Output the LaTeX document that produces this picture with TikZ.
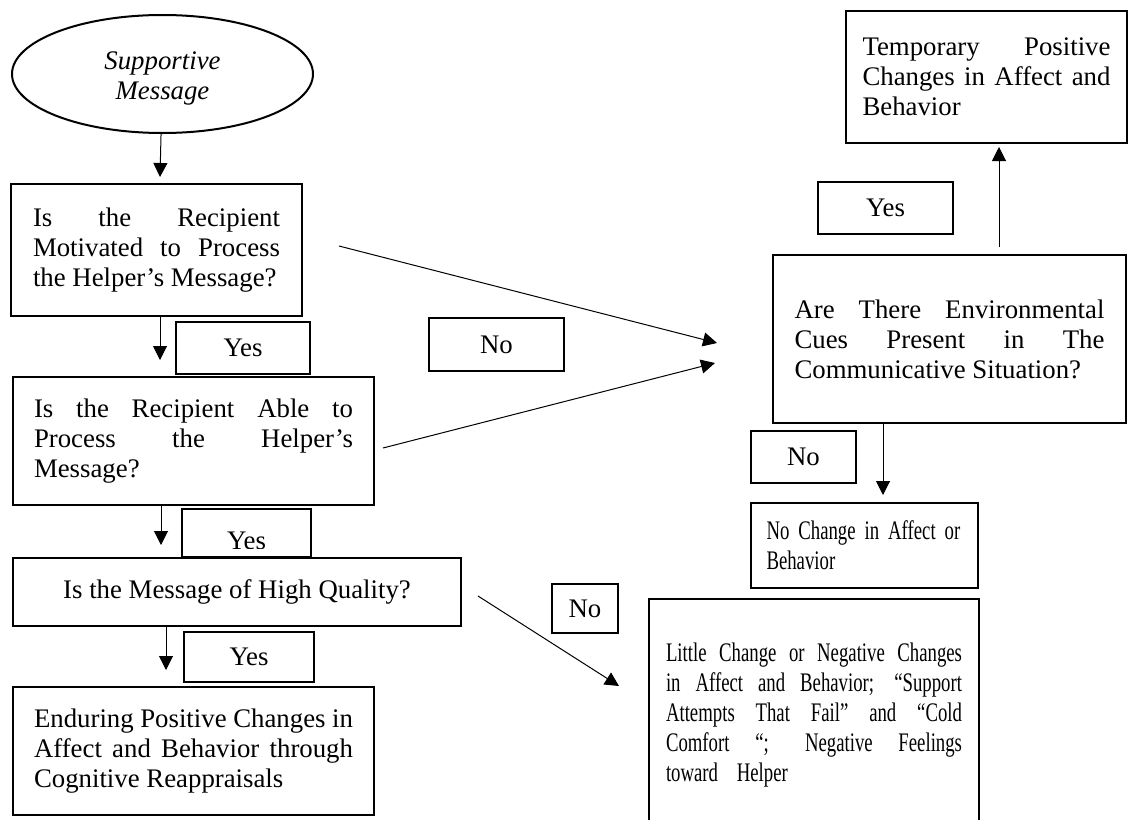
\documentclass[tikz,border=0pt]{standalone}
\usepackage{fontspec}
\setmainfont{Liberation Serif}
\newfontfamily\condfont{Liberation Serif}[FakeStretch=0.7]
\usetikzlibrary{shapes.geometric,arrows.meta}

\begin{document}
\begin{tikzpicture}[x=0.5pt, y=-0.5pt,
  box/.style={draw, line width=1pt, inner sep=0pt, align=justify, font=\fontsize{13.4}{15}\selectfont},
  lbl/.style={draw, line width=1pt, inner sep=0pt, font=\fontsize{13.4}{15}\selectfont},
  arr/.style={-{Triangle[length=7pt, width=7pt]}, line width=0.5pt}]
\useasboundingbox (0,0) rectangle (1129,819);
% left column
\node[shape=ellipse, draw, line width=1pt, inner sep=0pt, minimum width=150.5pt, minimum height=59pt, font=\itshape\fontsize{13.4}{15}\selectfont] (msg) at (162.5,74) {\raisebox{-6pt}[0pt][0pt]{\begin{tabular}{@{}c@{}}Supportive\\Message\end{tabular}}};
\node[box, text width=123.5pt, minimum width=145.5pt, minimum height=66pt] (motiv) at (156.5,250) {Is the Recipient\linebreak Motivated to Process\linebreak the Helper’s Message?};
\node[lbl, minimum width=67pt, minimum height=26pt] (yesA) at (243,348) {Yes};
\node[box, text width=159.5pt, minimum width=180.5pt, minimum height=64pt] (able) at (193.5,441) {Is the Recipient Able to\linebreak Process the Helper’s\linebreak Message?};
\node[lbl, minimum width=64.5pt, minimum height=24pt] (yesB) at (246.5,533) {};
\begin{scope}
  \clip (182,509) rectangle (311,548);
  \node[font=\fontsize{13.4}{15}\selectfont, inner sep=0pt] (yesBtext) at (246.5,541) {Yes};
\end{scope}
\node[lbl, fill=white, minimum width=224pt, minimum height=34pt] (quality) at (237,592) {Is the Message of High Quality?};
\node[lbl, minimum width=65pt, minimum height=25pt] (yesC) at (249,657) {Yes};
\node[box, text width=159.5pt, minimum width=180.5pt, minimum height=64pt] (enduring) at (193.5,751) {Enduring Positive Changes in\linebreak Affect and Behavior through\linebreak Cognitive Reappraisals};
% right column
\node[box, text width=124pt, minimum width=140.5pt, minimum height=66pt] (temporary) at (986.5,77) {Temporary Positive\linebreak Changes in Affect and\linebreak Behavior};
\node[lbl, minimum width=67.5pt, minimum height=26pt] (yesD) at (885.5,208) {Yes};
\node[box, text width=155pt, minimum width=176.5pt, minimum height=84pt] (cues) at (949.5,339) {Are There Environmental\linebreak Cues Present in The\linebreak Communicative Situation?};
\node[lbl, minimum width=67.5pt, minimum height=26.5pt] (noA) at (496.5,344.5) {No};
\node[lbl, minimum width=52.5pt, minimum height=26pt] (noB) at (803.5,457) {No};
\node[box, align=left, text width=98pt, minimum width=113.5pt, minimum height=42.5pt, font=\condfont\fontsize{13.4}{15}\selectfont] (nochange) at (864.5,545.5) {No Change in Affect or\\Behavior};
\node[lbl, minimum width=33pt, minimum height=24.5pt] (noC) at (585,608.5) {No};
\node[box, text width=148pt, minimum width=165pt, minimum height=116pt, font=\condfont\fontsize{13.4}{15}\selectfont] (little) at (814,715) {Little Change or Negative Changes\linebreak in Affect and Behavior; “Support\linebreak Attempts That Fail” and “Cold\linebreak Comfort “; Negative Feelings\linebreak toward\hspace{7pt} Helper\par\vspace{8pt}};
% arrow ends
\coordinate (t1) at (160,177);
\coordinate (t2) at (160,360);
\coordinate (t3) at (161,545);
\coordinate (t4) at (166,670);
\coordinate (t5) at (883,495);
\coordinate (t6) at (999,147);
\coordinate (s1) at (339,246);
\coordinate (t7) at (717,343);
\coordinate (s2) at (383,448);
\coordinate (t8) at (715,363);
\coordinate (s3) at (478,596);
\coordinate (t9) at (619,686);
\draw[arr] (msg) -- (t1);
\draw[arr] (motiv.south -| t2) -- (t2);
\draw[arr] (able.south -| t3) -- (t3);
\draw[arr] (quality.south -| t4) -- (t4);
\draw[arr] (cues.south -| t5) -- (t5);
\draw[arr, shorten <=3.5pt] (cues.north -| t6) -- (t6);
\draw[arr] (s1) -- (t7);
\draw[arr] (s2) -- (t8);
\draw[arr] (s3) -- (t9);
\end{tikzpicture}
\end{document}
